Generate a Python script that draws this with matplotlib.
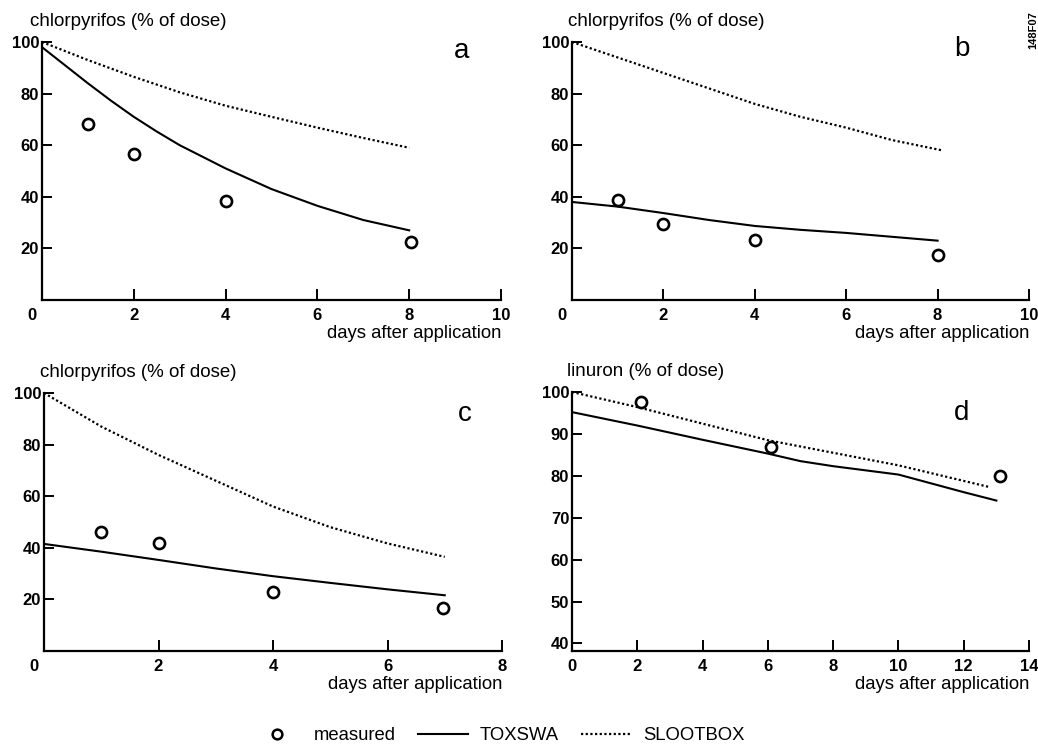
import matplotlib
matplotlib.use("Agg")
import matplotlib.pyplot as plt
from matplotlib.lines import Line2D
import matplotlib.transforms as mtransforms

plt.rcParams['font.family'] = ['Liberation Sans', 'DejaVu Sans']

# panel a: chlorpyrifos
a_meas_x = [1.0, 2.0, 4.0, 8.05]
a_meas_y = [68.3, 56.5, 38.3, 22.5]
a_tox_x = [0, 0.5, 1, 1.5, 2, 2.5, 3, 4, 5, 6, 7, 8]
a_tox_y = [98, 91, 84, 77.3, 71, 65.3, 60, 51, 43, 36.5, 31, 27]
a_slo_x = [0, 1, 2, 3, 4, 5, 6, 7, 8]
a_slo_y = [100, 93, 86.5, 80.5, 75.3, 71, 66.8, 62.8, 59]

# panel b: chlorpyrifos
b_meas_x = [1.0, 2.0, 4.0, 8.0]
b_meas_y = [38.8, 29.5, 23.3, 17.5]
b_tox_x = [0, 1, 2, 3, 4, 5, 6, 7, 8]
b_tox_y = [38, 36.2, 33.7, 31, 28.7, 27.2, 26, 24.5, 23]
b_slo_x = [0, 1, 2, 3, 4, 5, 6, 7, 8.1]
b_slo_y = [100, 94, 88, 82, 76, 71, 66.8, 62, 58]

# panel c: chlorpyrifos
c_meas_x = [1.0, 2.0, 4.0, 6.97]
c_meas_y = [46, 41.7, 23, 16.5]
c_tox_x = [0, 1, 2, 3, 4, 5, 6, 7]
c_tox_y = [41.5, 38.5, 35.3, 32, 29, 26.4, 23.9, 21.6]
c_slo_x = [0, 1, 2, 3, 4, 5, 6, 7]
c_slo_y = [100, 87, 76, 66, 56, 48, 41.7, 36.5]

# panel d: linuron
d_meas_x = [2.1, 6.1, 13.1]
d_meas_y = [97.6, 86.9, 79.9]
d_tox_x = [0, 2, 4, 6, 7, 8, 10, 12, 13]
d_tox_y = [95.2, 92, 88.6, 85.3, 83.5, 82.3, 80.3, 76.1, 74.1]
d_slo_x = [0, 2, 6, 10, 12.8]
d_slo_y = [100, 96.4, 88.5, 82.5, 77.3]

panels = [
    dict(pos=[42, 42, 501, 300], xlim=(0, 10), xticks=[0, 2, 4, 6, 8, 10],
         ylim=(0, 100), yticks=[20, 40, 60, 80, 100], ylabel='chlorpyrifos (% of dose)',
         lab_dx=-12, letter='a', let_xy=(0.915, 0.965),
         mx=a_meas_x, my=a_meas_y, tx=a_tox_x, ty=a_tox_y, sx=a_slo_x, sy=a_slo_y),
    dict(pos=[572, 42, 1029, 300], xlim=(0, 10), xticks=[0, 2, 4, 6, 8, 10],
         ylim=(0, 100), yticks=[20, 40, 60, 80, 100], ylabel='chlorpyrifos (% of dose)',
         lab_dx=-4, letter='b', let_xy=(0.853, 0.972),
         mx=b_meas_x, my=b_meas_y, tx=b_tox_x, ty=b_tox_y, sx=b_slo_x, sy=b_slo_y),
    dict(pos=[44, 393, 502, 651], xlim=(0, 8), xticks=[0, 2, 4, 6, 8],
         ylim=(0, 100), yticks=[20, 40, 60, 80, 100], ylabel='chlorpyrifos (% of dose)',
         lab_dx=-4, letter='c', let_xy=(0.919, 0.92),
         mx=c_meas_x, my=c_meas_y, tx=c_tox_x, ty=c_tox_y, sx=c_slo_x, sy=c_slo_y),
    dict(pos=[572, 392, 1029, 651], xlim=(0, 14), xticks=[0, 2, 4, 6, 8, 10, 12, 14],
         ylim=(38.2, 100), yticks=[40, 50, 60, 70, 80, 90, 100], ylabel='linuron (% of dose)',
         lab_dx=-5, letter='d', let_xy=(0.853, 0.92),
         mx=d_meas_x, my=d_meas_y, tx=d_tox_x, ty=d_tox_y, sx=d_slo_x, sy=d_slo_y),
]

W, H = 1038, 746
fig = plt.figure(figsize=(W / 100, H / 100), dpi=100)

dots = (0, (1, 1.1))

for p in panels:
    l, t, r, b = p['pos']
    ax = fig.add_axes([l / W, (H - b) / H, (r - l) / W, (b - t) / H])
    ax.plot(p['sx'], p['sy'], color='black', lw=1.6, linestyle=dots)
    ax.plot(p['tx'], p['ty'], color='black', lw=1.5)
    ax.plot(p['mx'], p['my'], 'o', ms=8, mfc='white', mec='black', mew=1.9, clip_on=False)
    ax.set_xlim(p['xlim'])
    ax.set_ylim(p['ylim'])
    ax.set_xticks(p['xticks'])
    ax.set_yticks(p['yticks'])
    for s in ['top', 'right']:
        ax.spines[s].set_visible(False)
    for s in ['left', 'bottom']:
        ax.spines[s].set_linewidth(1.6)
    ax.tick_params(direction='in', length=7, width=1.4, labelsize=12, pad=2)
    ax.tick_params(axis='x', length=8, pad=6)
    for lab in ax.get_xticklabels() + ax.get_yticklabels():
        lab.set_fontweight('bold')
    if p['letter'] != 'd':
        lab0 = ax.get_xticklabels()[0]
        lab0.set_transform(lab0.get_transform() +
                           mtransforms.ScaledTranslation(-10 / 100, 0, fig.dpi_scale_trans))
    trans = ax.transAxes + mtransforms.ScaledTranslation(p['lab_dx'] / 100, 0, fig.dpi_scale_trans)
    ax.text(0, 1.08, p['ylabel'], transform=trans, fontsize=13.5,
            ha='left', va='center')
    ax.text(1.0, -0.13, 'days after application', transform=ax.transAxes,
            fontsize=13.3, ha='right', va='center')
    ax.text(p['let_xy'][0], p['let_xy'][1], p['letter'], transform=ax.transAxes,
            fontsize=20, ha='center', va='center')

fig.text(1033 / W, 1 - 30 / H, '148F07', rotation=90, fontsize=8,
         ha='center', va='center', fontweight='bold')

handles = [
    Line2D([], [], marker='o', linestyle='none', ms=7, mfc='white', mec='black', mew=1.8),
    Line2D([], [], color='black', lw=1.5),
    Line2D([], [], color='black', lw=1.6, linestyle=dots),
]
fig.legend(handles, ['measured', 'TOXSWA', 'SLOOTBOX'], loc='center',
           bbox_to_anchor=(498 / W, 1 - 736 / H), ncol=3, frameon=False,
           fontsize=13.3, handlelength=2.7, columnspacing=1.2, handletextpad=0.65,
           borderpad=0)

fig.savefig('out.png', dpi=100)
